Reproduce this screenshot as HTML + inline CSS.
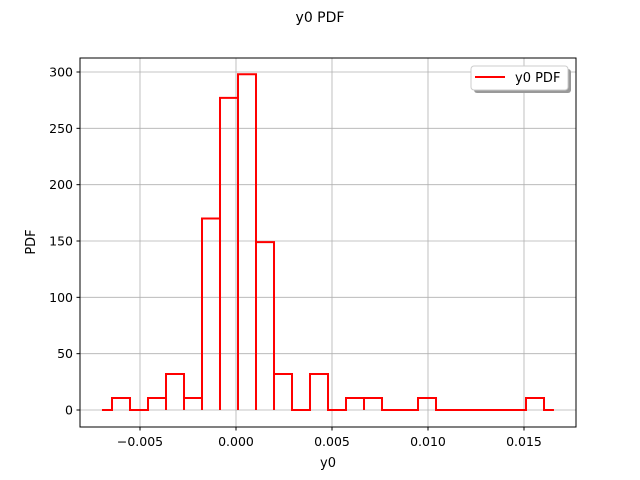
<!DOCTYPE html>
<html><head><meta charset="utf-8"><style>
body{margin:0;background:#fff}
svg{display:block;font-family:"DejaVu Sans","Liberation Sans",sans-serif}
</style></head><body>
<svg id="chart" width="640" height="480">
<rect width="640" height="480" fill="#fff"/>
<text x="320" y="22" text-anchor="middle" font-size="14">y0 PDF</text>
<g id="grid"></g>
<g id="series"></g>
<rect x="80" y="58" width="496" height="369" fill="none" stroke="#000" stroke-width="1"/>
<g id="ticks"></g>
<text x="328" y="467" text-anchor="middle" font-size="13">y0</text>
<text x="35" y="242" text-anchor="middle" font-size="13" transform="rotate(-90 35 242)">PDF</text>
<g>
<rect x="474" y="69" width="97" height="24" rx="3" fill="#999"/>
<rect x="471" y="66" width="97" height="24" rx="3" fill="#fff" stroke="#ccc"/>
<line x1="475" y1="77" x2="505" y2="77" stroke="#f00" stroke-width="2"/>
<text x="515" y="82" font-size="13">y0 PDF</text>
</g>
</svg>
<script>
const binStart = -0.006458;
const binWidth = 0.0009375;
const pdfValues = [10.6,0,10.6,32,10.6,170,277,298,149,32,0,32,0,10.6,10.6,0,0,10.6,0,0,0,0,0,10.6];
const lineExtent = [-0.00698, 0.01656];
const xTicks = [-0.005,0,0.005,0.010,0.015];
const xTickLabels = ["\u22120.005","0.000","0.005","0.010","0.015"];
const yTicks = [0,50,100,150,200,250,300];
const yTickLabels = ["0","50","100","150","200","250","300"];

const NS="http://www.w3.org/2000/svg";
const X=v=>236+v*19200;
const Y=v=>410-v*(338/300);
function mk(tag,attrs,parent){const e=document.createElementNS(NS,tag);for(const k in attrs)e.setAttribute(k,attrs[k]);parent.appendChild(e);return e;}
const grid=document.getElementById('grid'),ticks=document.getElementById('ticks'),series=document.getElementById('series');
xTicks.forEach((t,i)=>{
  const g=mk('line',{x1:X(t),x2:X(t),y1:58,y2:427,stroke:'#b0b0b0','stroke-width':0.8},grid);
  
  
  const tk=mk('line',{x1:X(t),x2:X(t),y1:427,y2:430.5,stroke:'#000'},ticks);
  
  
  const tx=mk('text',{x:X(t),y:446,'text-anchor':'middle','font-size':12.5},ticks);
  tx.textContent=xTickLabels[i];
  
  
});
yTicks.forEach((t,i)=>{
  const g=mk('line',{x1:80,x2:576,y1:Y(t),y2:Y(t),stroke:'#b0b0b0','stroke-width':0.8},grid);
  
  
  const tk=mk('line',{x1:76.5,x2:80,y1:Y(t),y2:Y(t),stroke:'#000'},ticks);
  
  
  const tx=mk('text',{x:73,y:Y(t)+4.5,'text-anchor':'end','font-size':12.5},ticks);
  tx.textContent=yTickLabels[i];
  
  
});
let pts=[[X(lineExtent[0]),Y(0)]];
pdfValues.forEach((v,i)=>{
  const a=X(binStart+i*binWidth),b=X(binStart+(i+1)*binWidth);
  pts.push([a,Y(0)],[a,Y(v)],[b,Y(v)],[b,Y(0)]);
});
pts.push([X(lineExtent[1]),Y(0)]);
const pl=mk('polyline',{points:pts.map(p=>p.join(',')).join(' '),fill:'none',stroke:'#f00','stroke-width':2,'stroke-linejoin':'miter'},series);


</script>
</body></html>
